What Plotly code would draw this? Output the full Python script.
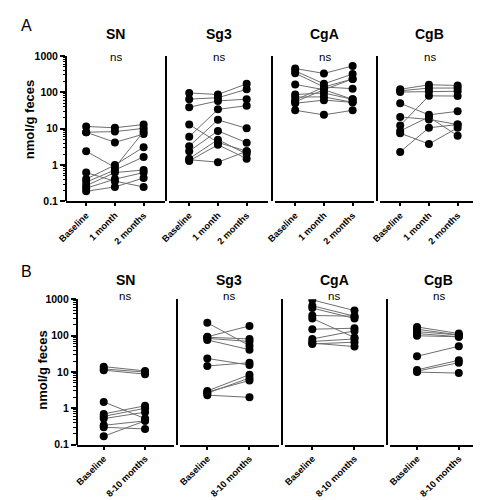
import plotly.graph_objects as go

W, H = 481, 500

panels = ["SN", "Sg3", "CgA", "CgB"]
cats_a = ["Baseline", "1 month", "2 months"]
cats_b = ["Baseline", "8-10 months"]
ytick_vals = [0.1, 1, 10, 100, 1000]
ytick_text = ["0.1", "1", "10", "100", "1000"]
sig_text = ["ns", "ns", "ns", "ns"]

# Row A: one list per subject -> [Baseline, 1 month, 2 months] (nmol/g feces)
sn_a = [[11.5, 10.6, 13.0], [8.0, 8.3, 10.2], [8.0, 4.2, 7.1], [2.4, 0.86, 8.3],
        [0.62, 0.36, 0.25], [0.41, 1.0, 3.1], [0.34, 0.73, 1.67], [0.27, 0.62, 0.73],
        [0.23, 0.41, 0.62], [0.19, 0.25, 0.44]]
sg3_a = [[96, 87, 171], [65, 71, 121], [39, 58, 65], [13, 4.2, 2.4],
         [6.0, 34, 43], [3.3, 17.5, 10.2], [2.4, 8.7, 4.1], [1.5, 5.0, 2.0],
         [1.3, 3.6, 1.5], [1.4, 1.2, 2.4]]
cga_a = [[451, 331, 532], [390, 171, 318], [336, 140, 126], [165, 118, 233],
         [87, 96, 64], [74, 75, 53], [61, 140, 233], [50, 61, 53],
         [32, 24, 32], [55, 118, 64]]
cgb_a = [[121, 161, 155], [110, 131, 131], [102, 107, 107], [50, 24, 30],
         [21, 18, 13], [12.3, 80, 79], [7.5, 3.8, 10.6], [2.3, 10.6, 13],
         [8.7, 21, 6.4]]

# Row B: one list per subject -> [Baseline, 8-10 months]
sn_b = [[14, 10.7], [12.1, 9.9], [11.2, 8.7], [1.5, 0.52], [0.70, 1.17],
        [0.60, 1.0], [0.52, 0.78], [0.34, 0.45], [0.30, 0.27], [0.17, 0.45]]
sg3_b = [[226, 53], [93, 185], [90, 81], [84, 69], [76, 41], [23.5, 15.5],
         [14.6, 18], [3.0, 8.4], [2.6, 6.8], [2.3, 2.0], [2.8, 5.8]]
cga_b = [[964, 488], [664, 343], [574, 297], [358, 343], [297, 89], [150, 160],
         [81, 135], [69, 81], [59, 66], [62, 50]]
cgb_b = [[173, 114], [150, 104], [129, 104], [114, 93], [99, 93], [27, 51],
         [11.4, 21], [10.5, 18], [9.9, 9.3]]

rows = [
    dict(cats=cats_a, data=[sn_a, sg3_a, cga_a, cgb_a], ytop=43, ybot=192,
         xs=[(50, 151, 50), (155, 256, 152), (263, 364, 260), (370, 471, 367)],
         xr=[-0.7, 2.75], title_y=21, ns_y=44, ylab_x=13, ylab_y=108, letter="A", letter_y=12),
    dict(cats=cats_b, data=[sn_b, sg3_b, cga_b, cgb_b], ytop=292.3, ybot=441.2,
         xs=[(61, 160, 61), (166, 267, 163), (273, 374, 270), (380, 480, 377)],
         xr=[-0.65, 1.7], title_y=273, ns_y=289, ylab_x=26, ylab_y=365, letter="B", letter_y=264),
]

FONT = "Liberation Sans, Arial, sans-serif"
fig = go.Figure()
layout = {}
annotations = []
k = 0
for r, row in enumerate(rows):
    ydom = [1 - row["ybot"] / H, 1 - row["ytop"] / H]
    for p, name in enumerate(panels):
        k += 1
        xa = "x" if k == 1 else f"x{k}"
        ya = "y" if k == 1 else f"y{k}"
        x0, x1, yl = row["xs"][p]
        for subj in row["data"][p]:
            fig.add_trace(go.Scatter(
                x=row["cats"], y=subj, xaxis=xa, yaxis=ya, mode="lines+markers",
                line=dict(color="#6e6e6e", width=1),
                marker=dict(color="black", size=8),
                showlegend=False, hoverinfo="skip"))
        xkey = "xaxis" if k == 1 else f"xaxis{k}"
        ykey = "yaxis" if k == 1 else f"yaxis{k}"
        layout[xkey] = dict(
            domain=[x0 / W, x1 / W], anchor=ya, type="category",
            categoryorder="array", categoryarray=row["cats"], range=row["xr"],
            showline=True, linecolor="black", linewidth=2, ticks="outside",
            ticklen=3, tickwidth=1.5, tickcolor="black", tickangle=-45,
            tickfont=dict(family=FONT, size=9.2, color="black", weight="bold"),
            showgrid=False, zeroline=False, fixedrange=True)
        ydict = dict(
            domain=ydom, type="log", range=[-1, 3], anchor="free", position=yl / W,
            showline=True, linecolor="black", linewidth=2, showgrid=False,
            zeroline=False, fixedrange=True)
        if p == 0:
            ydict.update(
                tickmode="array", tickvals=ytick_vals, ticktext=ytick_text,
                ticks="outside", ticklen=5, tickwidth=1.5, tickcolor="black",
                tickfont=dict(family=FONT, size=10.5, color="black", weight="bold"),
                minor=dict(ticks="outside", ticklen=2.5, tickwidth=1,
                           tickcolor="black", dtick="D1", showgrid=False))
        else:
            ydict.update(showticklabels=False, ticks="")
        layout[ykey] = ydict
        cx = (x0 + x1) / 2
        annotations.append(dict(
            text=f"<b>{name}</b>", x=cx / W, y=1 - row["title_y"] / H,
            xref="paper", yref="paper", showarrow=False, xanchor="center", yanchor="middle",
            font=dict(family=FONT, size=14, color="black")))
        annotations.append(dict(
            text=sig_text[p], x=cx / W, y=1 - row["ns_y"] / H,
            xref="paper", yref="paper", showarrow=False, xanchor="center", yanchor="middle",
            font=dict(family=FONT, size=11.5, color="black")))
    annotations.append(dict(
        text="<b>nmol/g feces</b>", x=row["ylab_x"] / W, y=1 - row["ylab_y"] / H,
        xref="paper", yref="paper", showarrow=False, textangle=-90,
        xanchor="center", yanchor="middle",
        font=dict(family=FONT, size=13, color="black")))
    annotations.append(dict(
        text=row["letter"], x=2 / W, y=1 - row["letter_y"] / H,
        xref="paper", yref="paper", showarrow=False, xanchor="left", yanchor="middle",
        font=dict(family=FONT, size=16, color="black")))

fig.update_layout(
    width=W, height=H, margin=dict(l=0, r=0, t=0, b=0),
    paper_bgcolor="white", plot_bgcolor="white",
    annotations=annotations, **layout)

fig.write_html("out.html")
